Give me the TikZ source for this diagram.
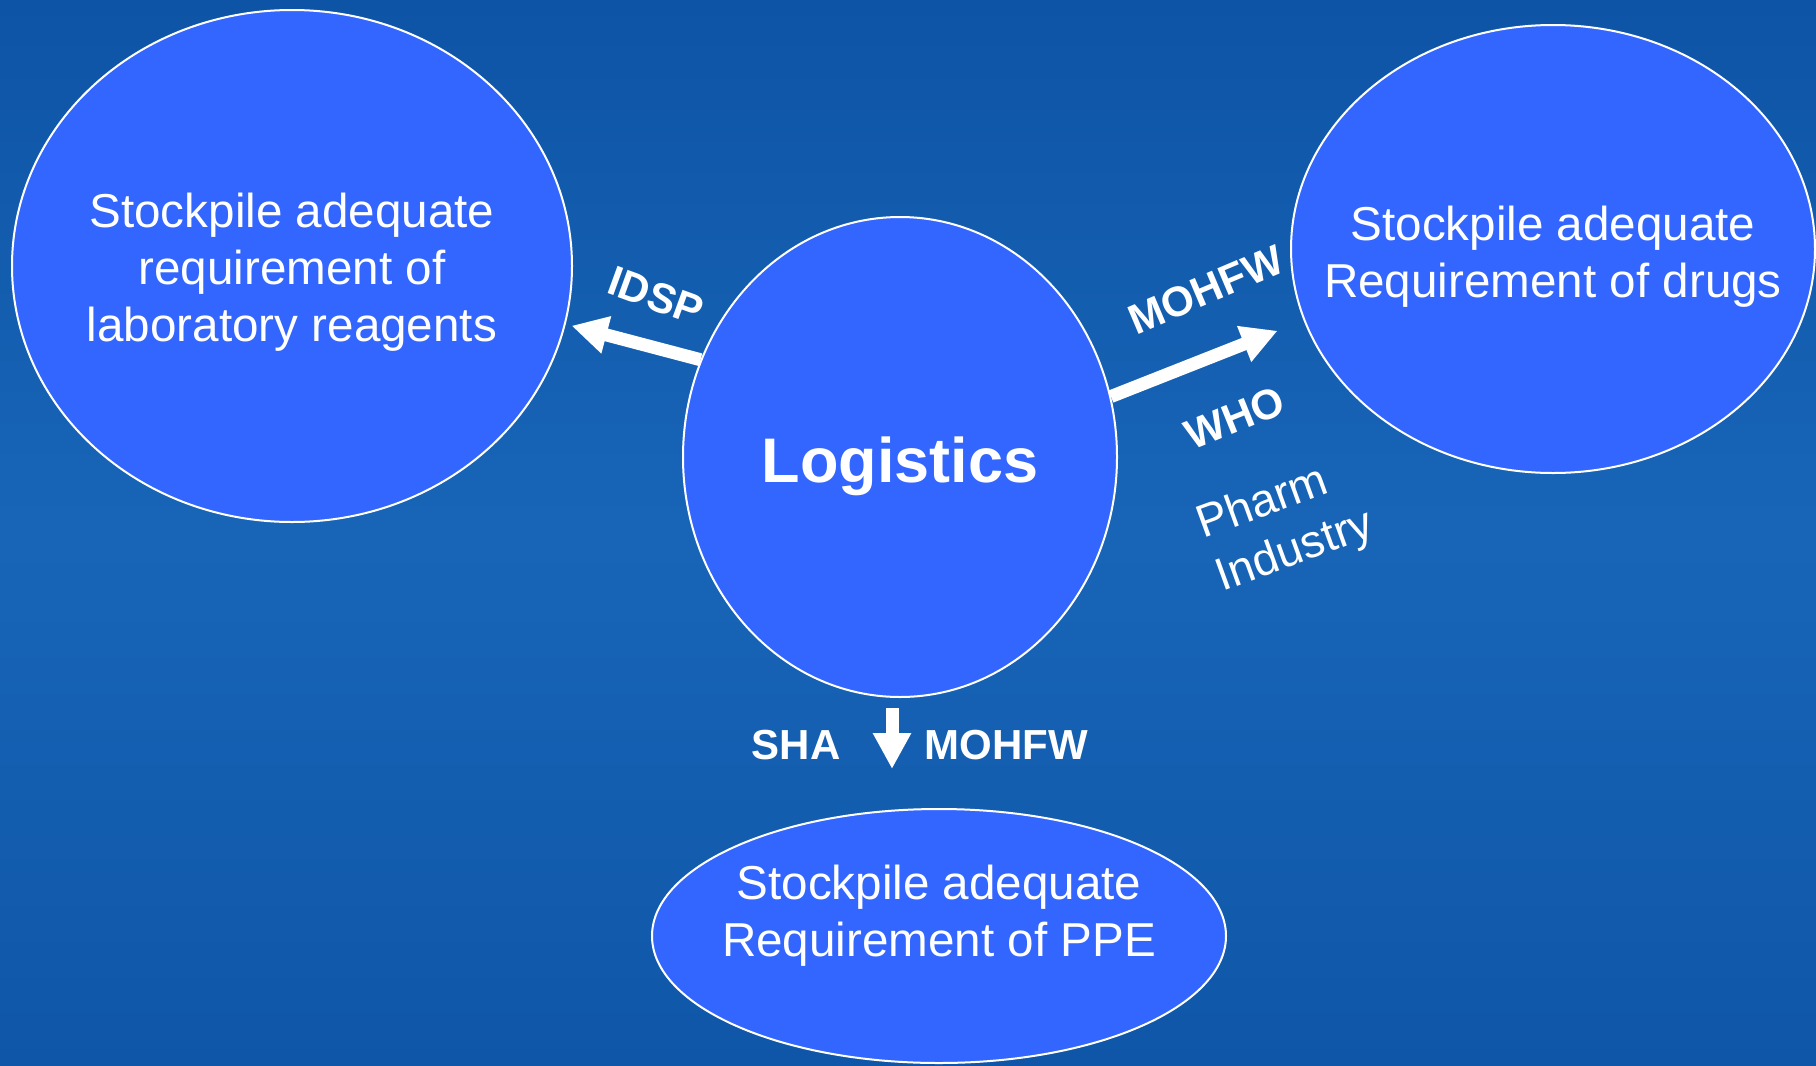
\documentclass[tikz,border=0pt]{standalone}
\usepackage{fontspec}
\setmainfont{Liberation Sans}
\usetikzlibrary{shapes.geometric,arrows.meta}
\definecolor{bgtop}{RGB}{14,84,166}
\definecolor{bgmid}{RGB}{24,101,183}
\definecolor{bgbot}{RGB}{15,86,168}
\definecolor{ellfill}{RGB}{51,102,255}
\tikzset{
  bubble/.style={ellipse, draw=white, line width=2pt, fill=ellfill, inner sep=0pt},
  btext/.style={text=white, font=\fontsize{47.6}{57}\selectfont, align=center},
  lab/.style={text=white, font=\bfseries\fontsize{42}{50}\selectfont},
  bigarrow/.style={draw=white, line width=13pt, -{Triangle[length=36pt,width=36pt]}},
}
\begin{document}
\begin{tikzpicture}[x=1pt,y=-1pt]
\useasboundingbox (0,0) rectangle (1816,1066);
\shade[top color=bgtop, bottom color=bgbot, middle color=bgmid] (0,0) rectangle (1816,1066);

\node[bubble, minimum width=560pt, minimum height=512pt,
  label={[btext, yshift=-6pt]center:Stockpile adequate\\requirement of\\laboratory reagents}] (lab) at (292,266) {};
\node[bubble, minimum width=524pt, minimum height=448pt,
  label={[btext, yshift=-8pt]center:Stockpile adequate\\Requirement of drugs}] (drugs) at (1553,249) {};
\node[bubble, minimum width=574pt, minimum height=254pt,
  label={[btext, yshift=20pt]center:Stockpile adequate\\Requirement of PPE}] (ppe) at (939,936) {};
\node[bubble, minimum width=434pt, minimum height=480pt,
  label={[text=white, font=\bfseries\fontsize{63}{70}\selectfont, yshift=-9pt]center:Logistics}] (logi) at (900,457) {};

\draw[bigarrow, shorten >=6pt] (logi.154.7) -- (lab.-12.9);
\draw[bigarrow, shorten >=28pt] (logi.16.3) -- (drugs.196.3);
\draw[bigarrow] ([shift={(-8pt,-10pt)}]logi.south) -- ([shift={(-47pt,39pt)}]ppe.north);

\node[lab, rotate=-20] (idsp) at (656,296) {IDSP};
\node[lab, rotate=23] (mohfwa) at (1206,290) {MOHFW};
\node[lab, rotate=22] (who) at (1235,418) {WHO};
\node[text=white, font=\fontsize{46}{56}\selectfont, align=left, rotate=20] (pharm) at (1286,526) {Pharm\\Industry};
\node[lab] (sha) at (796,745) {SHA};
\node[lab] (mohfwb) at (1006,745) {MOHFW};
\end{tikzpicture}
\end{document}
